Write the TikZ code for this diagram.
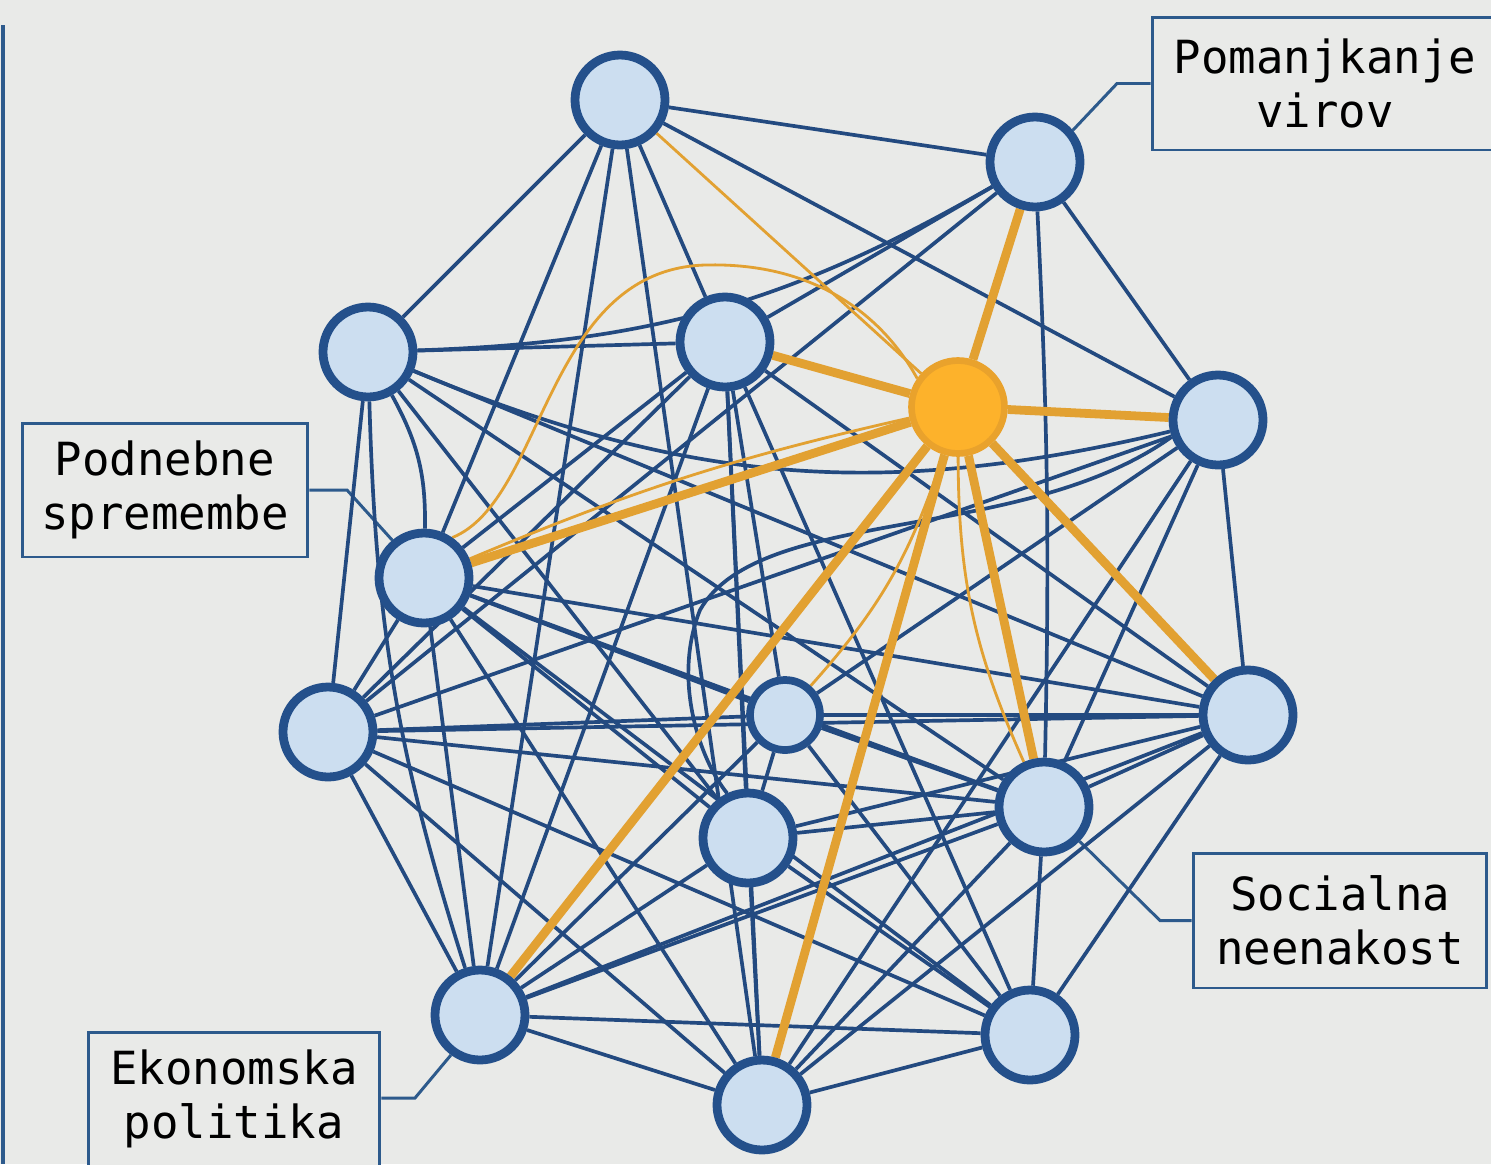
\documentclass[tikz,border=0pt]{standalone}
\usepackage{fontspec}
\newfontfamily\monof{DejaVu Sans Mono}
\usetikzlibrary{backgrounds}
\definecolor{bg}{HTML}{E9EAE8}
\definecolor{nodefill}{HTML}{CCDEF0}
\definecolor{nodeline}{HTML}{24508B}
\definecolor{edgeblue}{HTML}{234A80}
\definecolor{orfill}{HTML}{FDB22B}
\definecolor{orline}{HTML}{E9A22C}
\definecolor{oredge}{HTML}{E2A132}
\definecolor{labline}{HTML}{2D5A8C}
\pgfdeclarelayer{edgelayer}
\pgfsetlayers{background,edgelayer,main}
\tikzset{
 nd/.style={circle, fill=nodefill, draw=nodeline, line width=5pt, minimum size=1.8cm, inner sep=0pt},
 ndsmall/.style={nd, minimum size=1.4cm, line width=4.4pt},
 ndor/.style={circle, fill=orfill, draw=orline, line width=3.8pt, minimum size=1.86cm, inner sep=0pt},
 ed/.style={draw=edgeblue, line width=2.1pt},
 eo/.style={draw=oredge, line width=5pt},
 eot/.style={draw=oredge, line width=1.6pt},
 lab/.style={rectangle, draw=labline, line width=1.7pt, fill=bg, font=\monof\fontsize{26}{31}\selectfont, align=center, inner sep=0pt},
 conn/.style={draw=labline, line width=1.7pt},
}
\begin{document}
\begin{tikzpicture}[x=0.02cm,y=-0.02cm]
\begin{pgfonlayer}{background}
\fill[bg] (0,0) rectangle (1491,1164);
\end{pgfonlayer}
\useasboundingbox (0,0) rectangle (1491,1164);
\draw[labline, line width=2.2pt] (3,25) -- (3,1164);

% nodes
\node[nd] (A) at (620,100) {};
\node[nd] (B) at (1035,162) {};
\node[nd] (C) at (368,352) {};
\node[nd] (D) at (725,342) {};
\node[ndor] (O) at (958,407) {};
\node[nd] (E) at (1218,420) {};
\node[nd] (F) at (424,578) {};
\node[nd] (G) at (328,732) {};
\node[ndsmall] (H) at (785,715) {};
\node[nd] (I) at (1248,715) {};
\node[nd] (J) at (1044,807) {};
\node[nd] (K) at (748,838) {};
\node[nd] (L) at (480,1015) {};
\node[nd] (M) at (762,1105) {};
\node[nd] (N) at (1030,1035) {};

% labels
\node[lab, minimum width=6.92cm, minimum height=2.66cm] (labB) at (1325,83.5) {Pomanjkanje\\virov};
\node[lab, minimum width=5.72cm, minimum height=2.68cm] (labF) at (165,490) {Podnebne\\spremembe};
\node[lab, minimum width=5.88cm, minimum height=2.7cm] (labJ) at (1340,920.5) {Socialna\\neenakost};
\node[lab, minimum width=5.84cm, minimum height=2.68cm] (labL) at (234,1099) {Ekonomska\\politika};

\begin{pgfonlayer}{edgelayer}
% label connectors
\draw[conn] (labB.west) -- (1117,83.5) -- (B.40);
\draw[conn] (labF.east) -- (347,490) -- (F.130);
\draw[conn] (labJ.west) -- (1160,920.5) -- (J.-44);
\draw[conn] (labL.east |- 0,1098) -- (415,1098) -- (L.-126);

% blue edges
\draw[ed] (A) -- (B);
\draw[ed] (A) -- (C);
\draw[ed] (A) -- (D);
\draw[ed] (A) -- (E);
\draw[ed] (A) -- (F);
\draw[ed] (A) -- (L);
\draw[ed] (A) -- (M);
\draw[ed] (B) to[bend left=14] (C);
\draw[ed] (B) -- (D);
\draw[ed] (B) -- (E);
\draw[ed] (B) -- (G);
\draw[ed] (B) to[bend left=2] (J);
\draw[ed] (C) -- (D);
\draw[ed] (C) to[bend right=18] (E);
\draw[ed] (C) to[bend left=15] (F);
\draw[ed] (C) -- (G);
\draw[ed] (C) -- (J);
\draw[ed] (C) -- (K);
\draw[ed] (C) to[bend right=8] (L);
\draw[ed] (C) -- (I);
\draw[ed] (D) -- (F);
\draw[ed] (D) -- (G);
\draw[ed] (D) -- (H);
\draw[ed] (D) -- (K);
\draw[ed] (D) -- (L);
\draw[ed] (D) -- (M);
\draw[ed] (D) -- (N);
\draw[ed] (D) -- (I);
\draw[ed] (E) -- (G);
\draw[ed] (E) -- (H);
\draw[ed] (E) -- (M);
\draw[ed] (E) -- (J);
\draw[ed] (E) -- (I);
\draw[ed] (E.200) .. controls (1020,545) and (760,505) .. (700,610) .. controls (672,680) and (700,760) .. (K.115);
\draw[ed] (F) -- (G);
\draw[ed] (F) -- (H);
\draw[ed] (F) -- (J);
\draw[ed] (F) -- (I);
\draw[ed] (F) -- (K);
\draw[ed] (F) -- (N);
\draw[ed] (F) -- (M);
\draw[ed] (F) -- (L);
\draw[ed] (G) -- (I);
\draw[ed] (G) -- (J);
\draw[ed] (G) -- (N);
\draw[ed] (G) -- (L);
\draw[ed] (G) -- (M);
\draw[ed] (G) -- (H);
\draw[ed] (H) -- (I);
\draw[ed] (H) -- (J);
\draw[ed] (H) -- (K);
\draw[ed] (H) -- (N);
\draw[ed] (H) -- (L);
\draw[ed] (I) -- (J);
\draw[ed] (I) -- (K);
\draw[ed] (I) -- (L);
\draw[ed] (I) -- (N);
\draw[ed] (I) -- (M);
\draw[ed] (J) -- (K);
\draw[ed] (J) -- (L);
\draw[ed] (J) -- (M);
\draw[ed] (J) -- (N);
\draw[ed] (K) -- (L);
\draw[ed] (K) -- (M);
\draw[ed] (K) -- (N);
\draw[ed] (L) -- (M);
\draw[ed] (L) -- (N);
\draw[ed] (M) -- (N);

% orange edges
\draw[eot] (A) -- (O);
\draw[eot] (F) to[bend left=5] (O);
\draw[eot] (F.55) .. controls (545,500) and (545,270) .. (705,265) .. controls (820,262) and (885,320) .. (O.145);
\draw[eot] (H) to[bend right=12] (O);
\draw[eot] (O) to[bend right=12] (J);
\draw[eo] (O) -- (B);
\draw[eo] (O) -- (D);
\draw[eo] (O) -- (E);
\draw[eo] (O) -- (F);
\draw[eo] (O) -- (L);
\draw[eo] (O) -- (M);
\draw[eo] (O) -- (J);
\draw[eo] (O) -- (I);
\end{pgfonlayer}
\end{tikzpicture}
\end{document}
